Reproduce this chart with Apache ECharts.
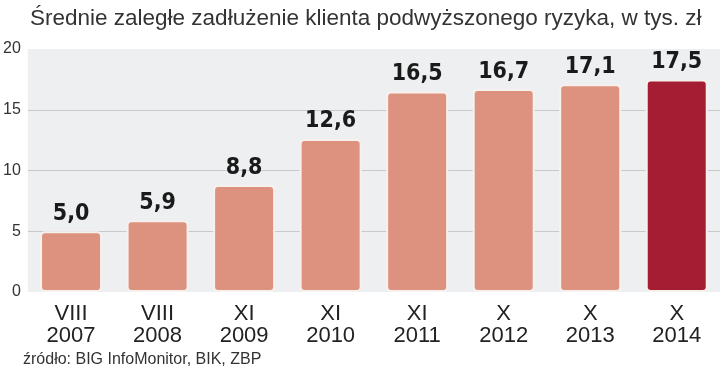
<!DOCTYPE html>
<html>
<head>
<meta charset="utf-8">
<script src="https://cdn.jsdelivr.net/npm/echarts@6/dist/echarts.min.js"></script>
<style>
  html, body { margin: 0; padding: 0; background: #fff; }
  #chart { width: 720px; height: 376px; }
</style>
</head>
<body>
<div id="chart"></div>
<script>
const months = ['VIII', 'VIII', 'XI', 'XI', 'XI', 'X', 'X', 'X'];
const years = ['2007', '2008', '2009', '2010', '2011', '2012', '2013', '2014'];
const debtValues = [5.0, 5.9, 8.8, 12.6, 16.5, 16.7, 17.1, 17.5];
const yTicks = [0, 5, 10, 15, 20];

const barColor = '#dc927e';
const lastBarColor = '#a51d32';

function initChart() {
    const chart = echarts.init(document.getElementById('chart'));
    const categories = months.map((m, i) => m + '\n' + years[i]);

    const option = {
        animation: false,
        title: {
            text: 'Średnie zaległe zadłużenie klienta podwyższonego ryzyka, w tys. zł',
            left: 25,
            top: 2,
            textStyle: {
                fontFamily: 'Liberation Sans',
                fontWeight: 'normal',
                fontSize: 22.5,
                color: '#333'
            }
        },
        graphic: [{
            type: 'text',
            left: 23,
            top: 352,
            style: {
                text: 'źródło: BIG InfoMonitor, BIK, ZBP',
                font: '16px "Liberation Sans"',
                fill: '#333'
            }
        }],
        grid: {
            left: 24,
            right: 0,
            top: 49,
            bottom: 84,
            show: true,
            backgroundColor: '#eeeff0',
            borderWidth: 0
        },
        xAxis: {
            type: 'category',
            data: categories,
            axisLine: { show: false },
            axisTick: { show: false },
            axisLabel: {
                margin: 11,
                fontFamily: 'Liberation Sans',
                fontSize: 22,
                lineHeight: 22,
                color: '#222'
            }
        },
        yAxis: {
            type: 'value',
            min: yTicks[0],
            max: yTicks[yTicks.length - 1],
            interval: 5,
            axisLine: { show: false },
            axisTick: { show: false },
            axisLabel: {
                margin: 7,
                fontFamily: 'Liberation Sans',
                fontSize: 16,
                color: '#333'
            },
            splitLine: {
                lineStyle: {
                    color: ['transparent', '#c9c9c9', '#c9c9c9', '#c9c9c9', 'transparent'],
                    width: 1
                }
            }
        },
        series: [{
            type: 'bar',
            data: debtValues.map((v, i) => ({
                value: v,
                itemStyle: { color: i === debtValues.length - 1 ? lastBarColor : barColor }
            })),
            barWidth: 62,
            itemStyle: {
                borderColor: '#f7f1ee',
                borderWidth: 2,
                borderRadius: 4
            },
            label: {
                show: true,
                position: 'top',
                distance: 6,
                formatter: p => p.value.toFixed(1).replace('.', ','),
                fontFamily: 'DejaVu Sans Condensed',
                fontWeight: 'bold',
                fontSize: 23,
                color: '#1a1a1a'
            }
        }]
    };
    chart.setOption(option);
}

document.addEventListener('DOMContentLoaded', function () {
    initChart();
});
</script>
</body>
</html>
